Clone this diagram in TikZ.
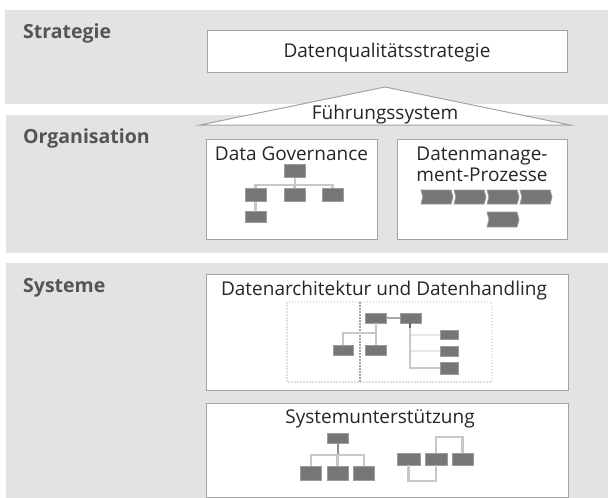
\documentclass[tikz,border=0pt]{standalone}
\usepackage{fontspec}
\setmainfont{Open Sans}
\usetikzlibrary{shapes.symbols}
\definecolor{bandgray}{HTML}{E2E3E5}
\definecolor{boxline}{HTML}{A3A3A3}
\definecolor{iconfill}{HTML}{767676}
\definecolor{iconline}{HTML}{9C9C9C}
\definecolor{labelgray}{HTML}{555555}
\definecolor{connline}{HTML}{C8C8C8}
\begin{document}
\begin{tikzpicture}[x=1pt,y=-1pt,
  band/.style={fill=bandgray,draw=none},
  frame/.style={draw=boxline,fill=white,line width=1.2pt},
  lbl/.style={anchor=base west,text=labelgray,font=\fontsize{19.5}{22}\selectfont\bfseries,inner sep=0pt},
  ttl/.style={anchor=base,text=black!85,font=\fontsize{19}{22}\selectfont,inner sep=0pt},
  ico/.style={draw=iconline,fill=iconfill,line width=0.8pt,inner sep=0pt,minimum width=21pt,minimum height=13pt},
  chev/.style={signal,signal to=east,signal from=west,signal pointer angle=150,draw=iconline,fill=iconfill,line width=0.8pt,inner sep=0pt,minimum width=32pt,minimum height=14pt},
  conn/.style={draw=connline,line width=2.2pt},
  faint/.style={draw=black!9,line width=2pt}
]
\useasboundingbox (0,0) rectangle (608,498);
\fill[white] (0,0) rectangle (608,498);
% bands
\path[band] (5,10) rectangle (608,104);
\path[band] (6,115) rectangle (608,253);
\path[band] (6,263) rectangle (608,498);
\node[lbl] (lS) at (23,38) {Strategie};
\node[lbl] (lO) at (23,143) {Organisation};
\node[lbl] (lY) at (23,292) {Systeme};
% strategy
\node[frame,anchor=north west,minimum width=360pt,minimum height=42pt] (dqs) at (207,30) {};
\node[ttl] (tdqs) at (387,57) {Datenqualitätsstrategie};
% roof
\filldraw[fill=white,draw=boxline,line width=1pt] (385,87) -- (570,125) -- (200,125) -- cycle;
\node[ttl] (tfs) at (385,119) {Führungssystem};
% organisation boxes
\node[frame,anchor=north west,minimum width=171pt,minimum height=100pt] (dg) at (206,139) {};
\node[ttl] (tdg) at (291.5,160) {Data Governance};
\node[frame,anchor=north west,minimum width=170pt,minimum height=100pt] (dm) at (397,139) {};
\node[ttl] (tdm1) at (482,160) {Datenmanage-};
\node[ttl] (tdm2) at (482,181) {ment-Prozesse};
% DG tree
\node[ico] (t1) at (295,171) {};
\node[ico] (r1) at (255.5,195) {};
\node[ico] (r2) at (294.5,195) {};
\node[ico] (r3) at (332.5,195) {};
\node[ico,minimum height=11pt] (r4) at (255.5,216.5) {};
\draw[conn] (t1.south) -- (t1.south |- 0,185);
\draw[conn] (r1.north) |- (r3.north |- 0,185) -- (r3.north);
\draw[conn] (r2.north) -- (r2.north |- 0,185);
\draw[conn] (r1.south) -- (r4.north);
\node[ico] (t1b) at (295,171) {};
\node[ico] (r1b) at (255.5,195) {};
\node[ico] (r2b) at (294.5,195) {};
\node[ico] (r3b) at (332.5,195) {};
% DM chevrons
\node[chev] (p1) at (437,197) {};
\node[chev] (p2) at (470,197) {};
\node[chev] (p3) at (503,197) {};
\node[chev] (p4) at (536,197) {};
\node[chev,minimum height=15pt] (p5) at (503,219.5) {};
% systems boxes
\node[frame,anchor=north west,minimum width=362pt,minimum height=116pt] (da) at (206,274) {};
\node[ttl] (tda) at (384,295) {Datenarchitektur und Datenhandling};
\node[frame,anchor=north west,minimum width=362pt,minimum height=94pt] (su) at (206,403) {};
\node[ttl] (tsu) at (380,423) {Systemunterstützung};
% architecture icon
\draw[black!12,line width=2.2pt,dash pattern=on 1.5pt off 1.5pt] (287,302) rectangle (492,382);
\draw[black!35,line width=2pt,dash pattern=on 1.5pt off 1.5pt] (360,302) -- (360,382);
\node[ico,minimum height=10pt] (a) at (376,318) {};
\node[ico,minimum height=10pt] (b) at (411,318) {};
\node[ico,minimum width=20pt,minimum height=10pt] (c) at (343,350) {};
\node[ico,minimum height=10pt] (d) at (376,350) {};
\node[ico,minimum width=18pt,minimum height=9pt] (e) at (449,334.5) {};
\node[ico,minimum width=18pt,minimum height=10pt] (f) at (449,351) {};
\node[ico,minimum width=18pt,minimum height=12pt] (g) at (449,368) {};
\draw[faint] (410,334.5) -- (e.west);
\draw[faint] (410,351) -- (f.west);
\draw[draw=black!35,line width=1.5pt] (a.east) -- (b.west);
\draw[conn] (a.south) -- (376,333);
\draw[conn] (c.north) |- (d.north |- 0,333) -- (d.north);
\draw[draw=black!60,line width=2pt] (410,323) -- (410,328);
\draw[conn] (410,328) |- (g.west);
% system support icons
\node[ico,minimum height=10pt] (s0) at (337.5,438) {};
\node[ico,minimum height=14pt] (s1) at (311,473) {};
\node[ico,minimum height=14pt] (s2) at (337.5,473) {};
\node[ico,minimum height=14pt] (s3) at (364,473) {};
\draw[draw=black!45,line width=2pt] (s0.south) -- (337.5,455);
\draw[conn] (s1.north) |- (s3.north |- 0,455) -- (s3.north);
\draw[conn] (s2.north) -- (337.5,455);
\node[ico,minimum width=23pt,minimum height=12pt] (n1) at (408.5,459) {};
\node[ico,minimum width=22pt,minimum height=12pt] (n2) at (436,459) {};
\node[ico,minimum width=21pt,minimum height=12pt] (n3) at (462.5,459) {};
\draw[conn] (n2.north) |- (462.5,437) -- (n3.north);
\draw[conn] (n1.south) |- (436,481) -- (n2.south);
\end{tikzpicture}
\end{document}
